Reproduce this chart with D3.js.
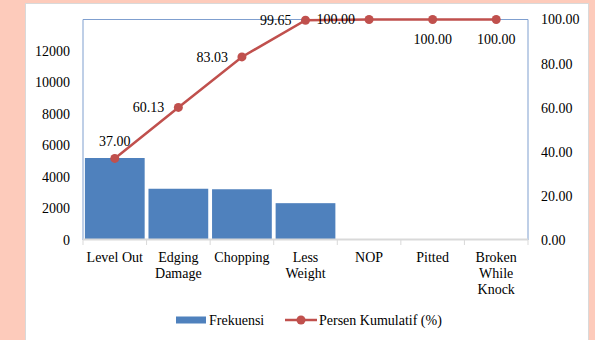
<!DOCTYPE html>
<head>
  <meta charset="utf-8">
  <title>Pareto Chart</title>
  <script src="https://d3js.org/d3.v7.min.js"></script>
  <style type="text/css">
    body { margin: 0; background: #fdcbbb; }
    svg { display: block; }
    text { font-family: "Liberation Serif", "Times New Roman", serif; font-size: 14px; fill: #000; }
  </style>
</head>
<body>
  <div id="graph-container"></div>
<script>
// =================== Data ======================
const categories = ["Level Out", "Edging Damage", "Chopping", "Less Weight", "NOP", "Pitted", "Broken While Knock"];
const categoryLines = [["Level Out"], ["Edging", "Damage"], ["Chopping"], ["Less", "Weight"], ["NOP"], ["Pitted"], ["Broken", "While", "Knock"]];
const frekuensi = [5206, 3254, 3222, 2338, 49, 0, 0];
const persenKumulatif = [37.00, 60.13, 83.03, 99.65, 100.00, 100.00, 100.00];
const leftTicks = [0, 2000, 4000, 6000, 8000, 10000, 12000];
const rightTicks = [0, 20, 40, 60, 80, 100];
// where each data label sits relative to its marker
const labelPos = ["top", "left", "left", "left", "left", "bottom", "bottom"];

// =================== Chart Prep ======================
const width = 595, height = 340;
const margin = { top: 19.5, right: 67, bottom: 100, left: 83 };
const plotW = width - margin.left - margin.right,
      plotH = height - margin.top - margin.bottom;

const svg = d3.select("#graph-container").append("svg")
    .attr("width", width)
    .attr("height", height);

// white chart panel
svg.append("rect")
    .attr("x", 25.5).attr("y", 3.5)
    .attr("width", 563).attr("height", 340)
    .attr("fill", "#fff")
    .attr("stroke", "#d9d9d9");

const g = svg.append("g")
    .attr("transform", "translate(" + margin.left + "," + margin.top + ")");

const x = d3.scaleBand().domain(categories).range([0, plotW]).paddingInner(0.06).paddingOuter(0.03);
const xc = d3.scaleBand().domain(categories).range([0, plotW]);
const yLeft = d3.scaleLinear().domain([0, 14000]).range([plotH, 0]);
const yRight = d3.scaleLinear().domain([0, 100]).range([plotH, 0]);

// bars
g.selectAll(".bar")
    .data(categories)
  .enter().append("rect")
    .attr("class", "bar")
    .attr("x", d => xc(d) + (xc.bandwidth() - x.bandwidth()) / 2)
    .attr("width", x.bandwidth())
    .attr("y", (d, i) => yLeft(frekuensi[i]))
    .attr("height", (d, i) => plotH - yLeft(frekuensi[i]))
    .attr("fill", "#4f81bd");

// plot area border (left, top, right)
g.append("path")
    .attr("d", "M0," + plotH + "V0H" + plotW + "V" + plotH)
    .attr("fill", "none")
    .attr("stroke", "#7f9fcf")
    .attr("stroke-width", 1);

// x axis line with tick marks between categories
g.append("line")
    .attr("x1", 0).attr("x2", plotW)
    .attr("y1", plotH - 0.5).attr("y2", plotH - 0.5)
    .attr("stroke", "#d9d9d9")
    .attr("stroke-width", 2);
g.selectAll(".xtick")
    .data(d3.range(categories.length + 1))
  .enter().append("line")
    .attr("x1", i => i * xc.step()).attr("x2", i => i * xc.step())
    .attr("y1", plotH).attr("y2", plotH + 5)
    .attr("stroke", "#d9d9d9");

// x labels
const xl = g.selectAll(".xlabel")
    .data(categories)
  .enter().append("text")
    .attr("class", "xlabel")
    .attr("text-anchor", "middle")
    .attr("x", d => xc(d) + xc.bandwidth() / 2)
    .attr("y", plotH + 22);
xl.selectAll("tspan")
    .data((d, i) => categoryLines[i])
  .enter().append("tspan")
    .attr("x", function() { return this.parentNode.getAttribute("x"); })
    .attr("dy", (d, i) => i === 0 ? 0 : 16)
    .text(d => d);

// left axis labels
g.selectAll(".ltick")
    .data(leftTicks)
  .enter().append("text")
    .attr("text-anchor", "end")
    .attr("x", -13)
    .attr("y", d => yLeft(d))
    .attr("dy", "0.35em")
    .text(d => d);

// right axis labels
g.selectAll(".rtick")
    .data(rightTicks)
  .enter().append("text")
    .attr("x", plotW + 13)
    .attr("y", d => yRight(d))
    .attr("dy", "0.35em")
    .text(d => d3.format(".2f")(d));

// cumulative line
const cx = i => xc(categories[i]) + xc.bandwidth() / 2;
g.append("path")
    .datum(persenKumulatif)
    .attr("fill", "none")
    .attr("stroke", "#c0504d")
    .attr("stroke-width", 2.5)
    .attr("d", d3.line().x((d, i) => cx(i)).y(d => yRight(d)));

g.selectAll(".dot")
    .data(persenKumulatif)
  .enter().append("circle")
    .attr("cx", (d, i) => cx(i))
    .attr("cy", d => yRight(d))
    .attr("r", 4.5)
    .attr("fill", "#c0504d");

// data labels
g.selectAll(".dlabel")
    .data(persenKumulatif)
  .enter().append("text")
    .attr("text-anchor", (d, i) => labelPos[i] === "left" ? "end" : "middle")
    .attr("x", (d, i) => labelPos[i] === "left" ? cx(i) - 14 : cx(i))
    .attr("y", (d, i) => yRight(d) + (labelPos[i] === "top" ? -17 : labelPos[i] === "bottom" ? 20 : 0))
    .attr("dy", "0.35em")
    .text(d => d3.format(".2f")(d));

// legend
const legend = svg.append("g").attr("transform", "translate(0,320)");
legend.append("rect")
    .attr("x", 176).attr("y", -3.5)
    .attr("width", 30).attr("height", 7)
    .attr("fill", "#4f81bd");
legend.append("text")
    .attr("x", 209).attr("dy", "0.35em")
    .text("Frekuensi");
legend.append("line")
    .attr("x1", 285).attr("x2", 317)
    .attr("stroke", "#c0504d").attr("stroke-width", 2.5);
legend.append("circle")
    .attr("cx", 301).attr("r", 4.5)
    .attr("fill", "#c0504d");
legend.append("text")
    .attr("x", 319).attr("dy", "0.35em")
    .text("Persen Kumulatif (%)");
</script>
